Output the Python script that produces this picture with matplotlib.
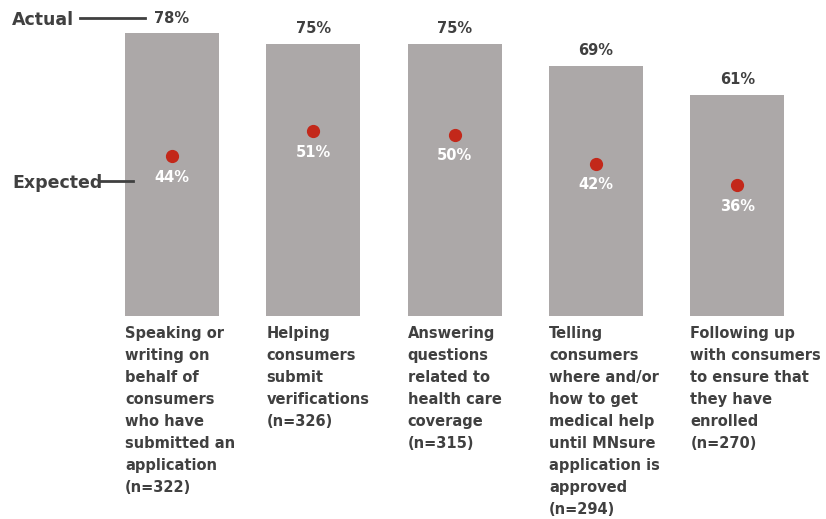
import matplotlib.pyplot as plt
from matplotlib.lines import Line2D

# survey results: share of navigators doing each activity
categories = [
    "Speaking or\nwriting on\nbehalf of\nconsumers\nwho have\nsubmitted an\napplication\n(n=322)",
    "Helping\nconsumers\nsubmit\nverifications\n(n=326)",
    "Answering\nquestions\nrelated to\nhealth care\ncoverage\n(n=315)",
    "Telling\nconsumers\nwhere and/or\nhow to get\nmedical help\nuntil MNsure\napplication is\napproved\n(n=294)",
    "Following up\nwith consumers\nto ensure that\nthey have\nenrolled\n(n=270)",
]
actual = [78, 75, 75, 69, 61]
expected = [44, 51, 50, 42, 36]

bar_color = "#aca8a8"
dot_color = "#c3281a"
text_color = "#404040"

plt.rcParams['font.family'] = ['DejaVu Sans']

fig = plt.figure(figsize=(8.26, 5.19), dpi=100)
ax = fig.add_axes([0, 0.391, 1, 0.609])
ax.set_xlim(-1.217, 4.628)
ax.set_ylim(0, 87.1)
ax.axis('off')

x = list(range(len(actual)))
width = 0.665
px_x = 141.3   # pixels per category step
px_y = 3.628   # pixels per percentage point

ax.bar(x, actual, width=width, color=bar_color)
ax.plot(x, expected, 'o', color=dot_color, markersize=8.5, zorder=3)

for i in x:
    ax.annotate(f"{actual[i]}%", (i, actual[i]), xytext=(0, 15), textcoords='offset pixels',
                ha='center', va='center', fontsize=10.5, fontweight='bold', color=text_color)
    ax.annotate(f"{expected[i]}%", (i, expected[i]), xytext=(0, -21), textcoords='offset pixels',
                ha='center', va='center', fontsize=10.5, fontweight='bold', color='white')
    ax.text(i - width / 2, -2.6, categories[i], ha='left', va='top', fontsize=10.5,
            fontweight='bold', color=text_color, linespacing=1.59, clip_on=False)

# key on the left, tied to the first bar
ax.annotate("Actual", (0, actual[0]), xytext=(-160, 13), textcoords='offset pixels',
            ha='left', va='center', fontsize=12.5, fontweight='bold', color=text_color)
ax.add_line(Line2D([-92 / px_x, -27 / px_x], [actual[0] + 15 / px_y] * 2,
                   color=text_color, lw=2, clip_on=False))
ax.annotate("Expected", (0, expected[0]), xytext=(-160, -27), textcoords='offset pixels',
            ha='left', va='center', fontsize=12.5, fontweight='bold', color=text_color)
ax.add_line(Line2D([-72 / px_x, -39 / px_x], [expected[0] - 25 / px_y] * 2,
                   color=text_color, lw=2, clip_on=False))

fig.savefig("out.png", dpi=100)
